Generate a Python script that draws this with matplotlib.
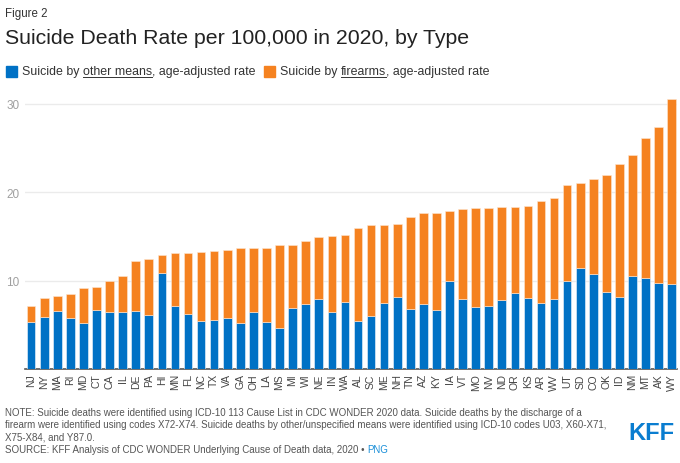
import matplotlib
matplotlib.use("Agg")
import matplotlib.pyplot as plt
import numpy as np

plt.rcParams['font.family'] = ['Liberation Sans', 'DejaVu Sans']

states = ['NJ', 'NY', 'MA', 'RI', 'MD', 'CT', 'CA', 'IL', 'DE', 'PA', 'HI', 'MN', 'FL',
          'NC', 'TX', 'VA', 'GA', 'OH', 'LA', 'MS', 'MI', 'WI', 'NE', 'IN', 'WA', 'AL',
          'SC', 'ME', 'NH', 'TN', 'AZ', 'KY', 'IA', 'VT', 'MO', 'NV', 'ND', 'OR', 'KS',
          'AR', 'WV', 'UT', 'SD', 'CO', 'OK', 'ID', 'NM', 'MT', 'AK', 'WY']
# age-adjusted rate per 100,000, other means (blue)
other_means = [5.3, 5.9, 6.6, 5.8, 5.2, 6.7, 6.4, 6.5, 6.6, 6.1, 10.9, 7.1, 6.2,
               5.4, 5.6, 5.8, 5.2, 6.5, 5.3, 4.6, 6.9, 7.4, 7.9, 6.4, 7.6, 5.4,
               6.0, 7.5, 8.2, 6.8, 7.3, 6.7, 10.0, 7.9, 7.0, 7.1, 7.8, 8.6, 8.0,
               7.5, 7.9, 10.0, 11.4, 10.8, 8.7, 8.2, 10.5, 10.3, 9.7, 9.6]
# age-adjusted rate per 100,000, firearms (orange)
firearms = [1.8, 2.1, 1.7, 2.7, 4.0, 2.6, 3.6, 4.0, 5.6, 6.4, 2.0, 6.0, 6.9,
            7.8, 7.7, 7.7, 8.5, 7.2, 8.4, 9.4, 7.1, 7.1, 7.0, 8.6, 7.6, 10.5,
            10.3, 8.8, 8.2, 10.4, 10.3, 11.0, 7.9, 10.2, 11.2, 11.1, 10.5, 9.7, 10.4,
            11.5, 11.5, 10.8, 9.6, 10.7, 13.2, 15.0, 13.7, 15.8, 17.7, 20.9]

blue = '#0071c5'
orange = '#f58220'
grey_txt = '#555555'

fig = plt.figure(figsize=(6.8, 4.64), dpi=100)
ax = fig.add_axes([25/680, 1 - 370/464, 652/680, 274/464])

x = np.arange(len(states))
ax.bar(x, other_means, width=0.66, color=blue, edgecolor='#f2f7fc', linewidth=0.4, zorder=3)
ax.bar(x, firearms, width=0.66, bottom=other_means, color=orange,
       edgecolor='#fde6d2', linewidth=0.4, zorder=3)

ax.set_xlim(-0.47, len(states) - 0.6)
ax.set_ylim(0, 31)
ax.set_yticks([10, 20, 30])
ax.yaxis.grid(True, color='#ebebeb', linewidth=1, zorder=0)
ax.set_xticks(x)
ax.set_xticklabels(states, rotation=90, fontsize=7.5, color='#444444')
ax.tick_params(axis='y', length=0, labelsize=8.5, labelcolor='#a0a0a0', pad=4)
ax.tick_params(axis='x', length=0, pad=3)
for s in ['top', 'right', 'left']:
    ax.spines[s].set_visible(False)
ax.spines['bottom'].set_color('#555555')
ax.spines['bottom'].set_linewidth(1.2)

# header
fig.text(5/680, 1 - 14/464, 'Figure 2', fontsize=8.3, color='#333333', va='center')
fig.text(5/680, 1 - 39/464, 'Suicide Death Rate per 100,000 in 2020, by Type',
         fontsize=15.3, color='#222222', va='center')

# legend with underlined words
fig.canvas.draw()
renderer = fig.canvas.get_renderer()
ly = 1 - 72/464
inv = fig.transFigure.inverted()


def put(xpos, txt, underline=False):
    t = fig.text(xpos, ly, txt, fontsize=8.9, color='#333333', va='center')
    bb = t.get_window_extent(renderer)
    b = inv.transform(bb)
    if underline:
        fig.add_artist(plt.Line2D([b[0][0], b[1][0]], [b[0][1] + 0.5/464, b[0][1] + 0.5/464],
                                  transform=fig.transFigure, color='#333333', linewidth=0.7))
    return b[1][0]


def legend_item(xpos, color, pre, und, post):
    fig.add_artist(plt.Rectangle((xpos, ly - 5.5/464), 11/680, 11/464,
                                 transform=fig.transFigure, color=color))
    xp = xpos + 16/680
    xp = put(xp, pre)
    xp = put(xp, und, underline=True)
    xp = put(xp, post)
    return xp


end = legend_item(6/680, blue, 'Suicide by ', 'other means', ', age-adjusted rate')
legend_item(end + 8/680, orange, 'Suicide by ', 'firearms', ', age-adjusted rate')

# notes
notes = ['NOTE: Suicide deaths were identified using ICD-10 113 Cause List in CDC WONDER 2020 data. Suicide deaths by the discharge of a',
         'firearm were identified using codes X72-X74. Suicide deaths by other/unspecified means were identified using ICD-10 codes U03, X60-X71,',
         'X75-X84, and Y87.0.']
for i, line in enumerate(notes):
    fig.text(5/680, 1 - (413 + 12.3*i)/464, line, fontsize=7.05, color=grey_txt, va='center')
src = fig.text(5/680, 1 - 450/464, 'SOURCE: KFF Analysis of CDC WONDER Underlying Cause of Death data, 2020 \u2022 ',
               fontsize=7.05, color=grey_txt, va='center')
bb = inv.transform(src.get_window_extent(renderer))
fig.text(bb[1][0], 1 - 450/464, 'PNG', fontsize=7.05, color='#1a8fd8', va='center')

fig.text(675/680, 1 - 431/464, 'KFF', fontsize=17, fontweight='bold', color='#0a7dd0',
         ha='right', va='center_baseline', family=['Liberation Sans Narrow', 'Liberation Sans'])

fig.savefig('out.png', dpi=100)
